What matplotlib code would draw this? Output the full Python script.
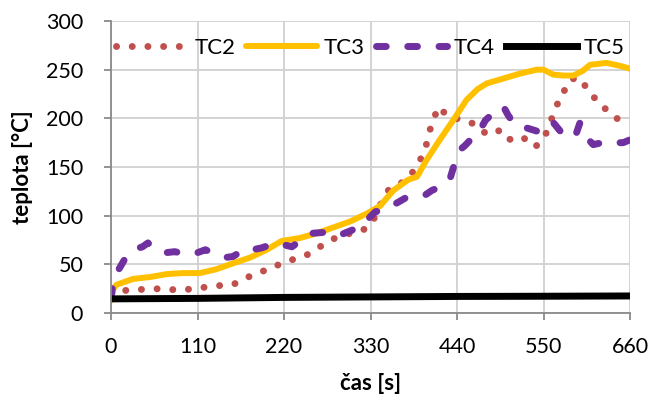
import matplotlib
matplotlib.use("Agg")
import matplotlib.pyplot as plt

plt.rcParams['font.family'] = ['Lato', 'DejaVu Sans']

# data
t2 = [0, 15, 35, 55, 75, 95, 115, 135, 155, 170, 187, 202, 220, 237, 254, 269, 285, 300, 318, 331,
      347, 355, 365, 377, 391, 399, 404, 409, 418, 427, 438, 450, 459, 468, 482, 495, 504, 516, 525,
      532, 541, 552, 557, 565, 571, 576, 584, 595, 605, 611, 621, 631, 638, 648, 657, 660]
tc2 = [18, 23, 24, 25, 24, 24, 26, 28, 29, 36, 40, 47, 51, 57, 61, 70, 77, 81, 84, 91,
       119, 129, 132, 137, 154, 167, 183, 199, 212, 202, 200, 198, 195, 188, 183, 188, 179, 177, 180,
       172, 172, 182, 194, 208, 224, 228, 240, 242, 231, 223, 218, 207, 202, 198, 198, 197]

t3 = [0, 3, 7, 28, 50, 71, 92, 113, 134, 155, 177, 198, 217, 240, 262, 283, 304, 317, 325, 342,
      359, 378, 389, 401, 418, 435, 452, 466, 478, 499, 520, 541, 550, 562, 575, 588, 600, 609,
      630, 647, 660]
tc3 = [13, 25, 29, 35, 37, 40, 41, 41, 45, 51, 57, 65, 74, 77, 82, 88, 94, 99, 102, 110,
       126, 137, 140, 157, 178, 198, 219, 230, 236, 241, 246, 250, 250, 245, 244, 244, 249, 255,
       257, 254, 251]

t4 = [0, 3, 10, 18, 28, 40, 47, 55, 60, 70, 81, 98, 110, 120, 134, 145, 155, 171, 180, 192, 209,
      220, 230, 245, 257, 274, 283, 291, 306, 315, 321, 336, 346, 359, 374, 384, 392, 399, 408,
      420, 431, 437, 444, 450, 457, 467, 476, 488, 499, 505, 514, 529, 545, 552, 562, 573, 580,
      590, 596, 605, 613, 630, 640, 651, 660]
tc4 = [15, 34, 45, 56, 65, 68, 72, 66, 64, 62, 63, 60, 62, 65, 60, 57, 58, 66, 65, 67, 72,
       70, 68, 77, 82, 83, 80, 80, 85, 88, 92, 104, 106, 111, 118, 120, 121, 121, 126,
       130, 138, 154, 168, 172, 178, 185, 198, 207, 212, 203, 193, 190, 186, 188, 196, 185, 182,
       181, 195, 180, 173, 176, 175, 175, 178]

t5 = [0, 110, 220, 330, 440, 550, 660]
tc5 = [14.5, 15, 16, 16.5, 17, 17.2, 17.5]

xticks = [0, 110, 220, 330, 440, 550, 660]
yticks = [0, 50, 100, 150, 200, 250, 300]

fig = plt.figure(figsize=(6.53, 4.01), dpi=100)
ax = fig.add_axes([0.170, 0.2195, 0.795, 0.728])

ax.plot(t2, tc2, color='#C0504D', lw=5, linestyle=(0, (0.01, 2.25)),
        dash_capstyle='round', label='TC2')
ax.plot(t3, tc3, color='#FFC000', lw=4.3, solid_capstyle='round', label='TC3')
ax.plot(t4, tc4, color='#7030A0', lw=5, linestyle=(0, (1.4, 3.1)),
        dash_capstyle='round', label='TC4')
ax.plot(t5, tc5, color='black', lw=5, label='TC5')

ax.set_xlim(0, 660)
ax.set_ylim(0, 300)
ax.set_xticks(xticks)
ax.set_yticks(yticks)
ax.grid(True, color='#d0d0d0', lw=1.3)
ax.set_axisbelow(True)

for s in ['top', 'right']:
    ax.spines[s].set_visible(False)
for s in ['left', 'bottom']:
    ax.spines[s].set_color('#8a8a8a')
    ax.spines[s].set_linewidth(1.3)
ax.tick_params(axis='both', colors='#8a8a8a', labelcolor='black', labelsize=15.5,
               length=5, width=1.3)
ax.tick_params(axis='x', pad=12)
ax.tick_params(axis='y', pad=15)

ax.set_xlabel('čas [s]', fontsize=16, fontweight='bold', labelpad=12)
ax.set_ylabel('teplota [°C]', fontsize=16, fontweight='bold', labelpad=9)

ax.legend(loc='upper center', bbox_to_anchor=(0.5, 1.0), ncol=4, frameon=False,
          fontsize=16, handlelength=3.2, handletextpad=0.3, columnspacing=0.5,
          borderaxespad=0.35)

fig.savefig('out.png', dpi=100)
